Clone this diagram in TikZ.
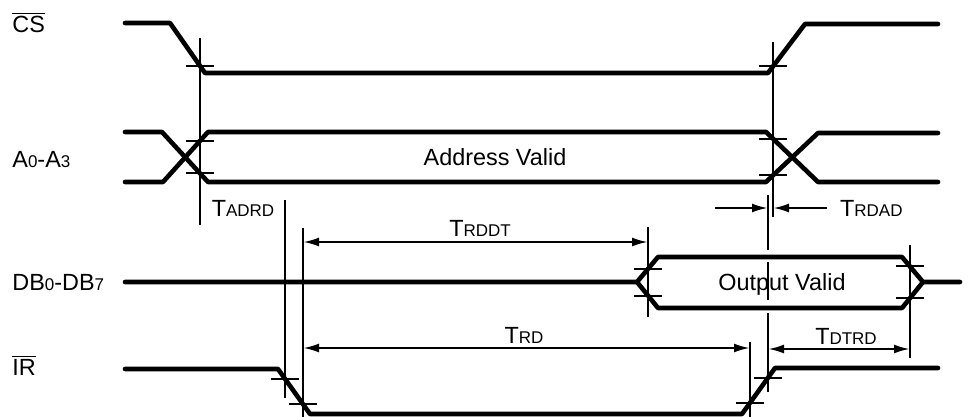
\documentclass[tikz,border=0pt]{standalone}
\usepackage{fontspec}
\setmainfont{Liberation Sans}
\usetikzlibrary{arrows.meta}
\tikzset{>={Latex[length=8pt,width=4.5pt]}}
\tikzset{sig/.style={line width=2.3pt,line join=round,line cap=round},
         refl/.style={line width=1.2pt},
         dim/.style={line width=1.2pt,<->}}
\newcommand{\sm}[1]{{\fontsize{8.5}{10}\selectfont #1}}
\newcommand{\tck}[2]{\draw[refl] (#1-14,#2) -- (#1+14,#2);}

\begin{document}
\begin{tikzpicture}[x=0.5pt,y=-0.5pt,font=\fontsize{11.7}{14}\selectfont]
    \useasboundingbox (0,0) rectangle (968,417);

    % signal names
    \node[anchor=west,inner sep=0pt] (lcs) at (12,22) {$\overline{\mbox{CS}}$};
    \node[anchor=west,inner sep=0pt] (la) at (12,160) {A\sm{0}-A\sm{3}};
    \node[anchor=west,inner sep=0pt] (ldb) at (12,283) {DB\sm{0}-DB\sm{7}};
    \node[anchor=west,inner sep=0pt] (lir) at (12,365) {$\overline{\mbox{IR}}$};

    % CS
    \draw[sig] (125,23) -- (170,23) -- (205,73) -- (768,73) -- (805,24) -- (938,24);
    % A0-A3
    \draw[sig] (125,132) -- (162,132) -- (208,182) -- (766,182) -- (818,133) -- (938,133);
    \draw[sig] (125,182) -- (163,182) -- (208,132) -- (766,132) -- (818,182) -- (938,182);
    \node (laddr) at (495,157) {Address Valid};
    % DB0-DB7
    \draw[sig] (125,282) -- (637,282) -- (658,257) -- (902,257) -- (923,282) -- (960,282);
    \draw[sig] (637,282) -- (658,308) -- (902,308) -- (923,282);
    \node (lout) at (782,284) {Output Valid};
    % IR
    \draw[sig] (125,369) -- (278,369) -- (310,414) -- (742,414) -- (775,368) -- (938,368);

    % reference lines
    \draw[refl] (200,38) -- (200,225);
    \draw[refl] (773,42) -- (773,217);
    \draw[refl] (768,195) -- (768,250) (768,262) -- (768,300) (768,313) -- (768,392);
    \draw[refl] (285,200) -- (285,398);
    \draw[refl] (303,228) -- (303,417);
    \draw[refl] (648,227) -- (648,317);
    \draw[refl] (910,245) -- (910,358);
    \draw[refl] (750,342) -- (750,417);

    % crossing marks
    \tck{200}{66} \tck{773}{66}
    \tck{200}{141} \tck{200}{173} \tck{773}{139} \tck{773}{175}
    \tck{648}{269} \tck{648}{296} \tck{910}{266} \tck{910}{298}
    \tck{285}{379} \tck{303}{404} \tck{750}{403} \tck{768}{378}

    % timings
    \coordinate (adrdL) at (200,208);
    \node (ladrd) at (243,208) {T\sm{ADRD}};

    \coordinate (rddtL) at (303,242);
    \coordinate (rddtR) at (648,242);
    \draw[dim] (rddtL) -- (rddtR);
    \node (lrddt) at (480,228) {T\sm{RDDT}};

    \coordinate (rdadL) at (768,208);
    \coordinate (rdadR) at (773,208);
    \draw[refl,->] (715,208) -- (rdadL);
    \draw[refl,->] (827,208) -- (rdadR);
    \node[anchor=west] (lrdad) at (833,208) {T\sm{RDAD}};

    \coordinate (rdL) at (303,348);
    \coordinate (rdR) at (750,348);
    \draw[dim] (rdL) -- (rdR);
    \node (lrd) at (524,335) {T\sm{RD}};

    \coordinate (dtrdL) at (768,349);
    \coordinate (dtrdR) at (910,349);
    \draw[dim] (dtrdL) -- (dtrdR);
    \node (ldtrd) at (846,336) {T\sm{DTRD}};

\end{tikzpicture}
\end{document}
